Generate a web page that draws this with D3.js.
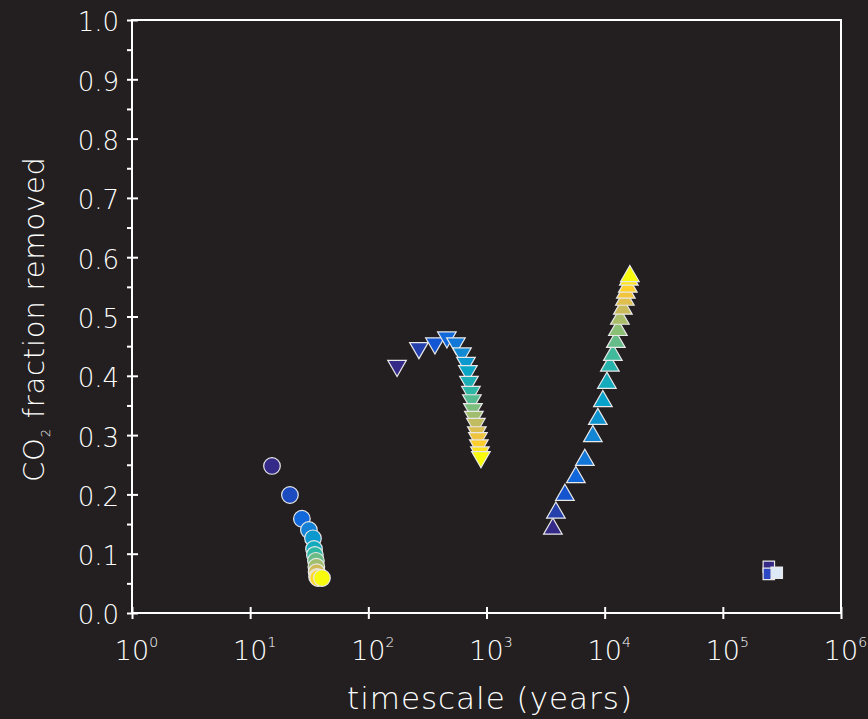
<!DOCTYPE html>
<html>
<head>
<meta charset="utf-8">
<script src="https://cdn.jsdelivr.net/npm/d3@7/dist/d3.min.js"></script>
<style>
  body { margin: 0; background: #231f20; }
  svg { display: block; }
  text { font-family: "DejaVu Sans", sans-serif; font-weight: 200; fill: #ffffff; }
</style>
</head>
<body>
<div class="chart"></div>
<script>
// data: timescale (years) vs CO2 fraction removed
var circleYears = [15.3, 21.7, 27.4, 31.4, 34.0, 34.7, 35.3, 36.0, 36.3, 36.5, 36.8, 37.5, 40.5];
var circleFrac  = [0.248, 0.199, 0.159, 0.140, 0.126, 0.108, 0.098, 0.088, 0.078, 0.069, 0.061, 0.059, 0.059];

var downYears = [175, 268, 366, 462, 551, 620, 670, 696, 710, 738, 752, 767, 782, 813, 829, 846, 862, 880, 897];
var downFrac  = [0.417, 0.447, 0.455, 0.465, 0.455, 0.438, 0.422, 0.408, 0.390, 0.373, 0.359, 0.344, 0.331, 0.319, 0.305, 0.295, 0.283, 0.271, 0.263];

var upYears = [3645, 3867, 4607, 5706, 6796, 7943, 8751, 9656, 10440, 11070, 11730, 12440, 12940, 13450, 14260, 14830, 15110, 15710, 16030, 16340];
var upFrac  = [0.142, 0.169, 0.199, 0.229, 0.258, 0.298, 0.327, 0.357, 0.388, 0.417, 0.435, 0.457, 0.477, 0.496, 0.513, 0.528, 0.540, 0.550, 0.562, 0.568];

var squareYears = [245000, 245000, 286000];
var squareFrac  = [0.078, 0.066, 0.068];

var xTicks = [1, 10, 100, 1000, 10000, 100000, 1000000];
var yTicks = [0, 0.1, 0.2, 0.3, 0.4, 0.5, 0.6, 0.7, 0.8, 0.9, 1.0];

// parula-like colour ramp
var parula = ["#352a87", "#0f5cdd", "#1481d6", "#06a4ca", "#2eb7a4", "#87bf77", "#d1bb59", "#fec832", "#f9fb0e"];
var squareColors = ["#352a87", "#2c47c4", "#dde9f7"];

var svgWidth = 868, svgHeight = 719;
var margin = { top: 20, right: 27, bottom: 106, left: 132 };
var width = svgWidth - margin.left - margin.right;
var height = svgHeight - margin.top - margin.bottom;

var svg = d3.select(".chart").append("svg")
  .attr("width", svgWidth)
  .attr("height", svgHeight);

var chartGroup = svg.append("g")
  .attr("transform", `translate(${margin.left}, ${margin.top})`);

var xScale = d3.scaleLog().domain([1, 1e6]).range([0, width]);
var yScale = d3.scaleLinear().domain([0, 1]).range([height, 0]);

var colorRamp = d3.scaleLinear()
  .domain(parula.map((c, i) => i / (parula.length - 1)))
  .range(parula)
  .interpolate(d3.interpolateRgb);

function colorFor(i, n) { return colorRamp(i / (n - 1)); }

// frame
chartGroup.append("rect")
  .attr("width", width).attr("height", height)
  .attr("fill", "none").attr("stroke", "#ffffff").attr("stroke-width", 2);

// y minor ticks (outside)
var yAxisMinor = d3.axisLeft(yScale)
  .tickValues(d3.range(0.05, 1, 0.1))
  .tickSize(5).tickFormat("");
chartGroup.append("g").attr("class", "y minor").call(yAxisMinor);

// y major ticks crossing the axis
var yAxis = d3.axisLeft(yScale)
  .tickValues(yTicks)
  .tickSizeInner(-6).tickSizeOuter(0)
  .tickFormat(d3.format(".1f"));
var yG = chartGroup.append("g").call(yAxis);
yG.selectAll(".tick line").attr("x1", -5);
yG.selectAll(".tick text").attr("x", -13).attr("dy", "0.42em").style("font-size", "26px");

var xAxis = d3.axisBottom(xScale)
  .tickValues(xTicks)
  .tickSizeInner(-6).tickSizeOuter(0)
  .tickFormat("");
var xG = chartGroup.append("g")
  .attr("transform", `translate(0, ${height})`)
  .call(xAxis);
xG.selectAll(".tick line").attr("y1", 6);

// 10^n labels
xG.selectAll(".tick").append("text")
  .attr("y", 47)
  .attr("text-anchor", "middle")
  .style("font-size", "27px")
  .attr("dx", 4)
  .each(function(d) {
    var t = d3.select(this);
    t.append("tspan").text("10");
    t.append("tspan").attr("dy", -13).style("font-size", "14px").text(Math.round(Math.log10(d)));
  });

svg.selectAll(".domain, .tick line").attr("stroke", "#ffffff").attr("stroke-width", 2);
svg.selectAll(".domain").remove();

// axis titles
svg.append("text")
  .attr("x", 347)
  .attr("y", 709)
  .attr("textLength", 285)
  .attr("lengthAdjust", "spacing")
  .style("font-size", "31px")
  .text("timescale (years)");

var yTitle = svg.append("text")
  .attr("transform", `translate(44, 482) rotate(-90)`)
  .attr("textLength", 325)
  .attr("lengthAdjust", "spacing")
  .style("font-size", "29px");
yTitle.append("tspan").text("CO");
yTitle.append("tspan").attr("dy", 6).style("font-size", "13px").text("2");
yTitle.append("tspan").attr("dy", -6).text(" fraction removed");

// markers
var marks = chartGroup.append("g");

var circleData = circleYears.map((x, i) => ({ x: x, y: circleFrac[i], c: colorFor(i, circleYears.length) }));
marks.selectAll("circle.pt")
  .data(circleData)
  .enter()
  .append("circle")
  .attr("class", "pt")
  .attr("cx", d => xScale(d.x))
  .attr("cy", d => yScale(d.y))
  .attr("r", 8.3)
  .attr("fill", d => d.c)
  .attr("stroke", "#e8e8e8")
  .attr("stroke-width", 1.2);

var triangle = d3.symbol().type(d3.symbolTriangle).size(150);

var downData = downYears.map((x, i) => ({ x: x, y: downFrac[i], c: colorFor(i, downYears.length) }));
marks.selectAll("path.down")
  .data(downData)
  .enter()
  .append("path")
  .attr("class", "down")
  .attr("d", triangle)
  .attr("transform", d => `translate(${xScale(d.x)}, ${yScale(d.y)}) rotate(180)`)
  .attr("fill", d => d.c)
  .attr("stroke", "#e8e8e8")
  .attr("stroke-width", 1.2);

var upData = upYears.map((x, i) => ({ x: x, y: upFrac[i], c: colorFor(i, upYears.length) }));
marks.selectAll("path.up")
  .data(upData)
  .enter()
  .append("path")
  .attr("class", "up")
  .attr("d", triangle)
  .attr("transform", d => `translate(${xScale(d.x)}, ${yScale(d.y)})`)
  .attr("fill", d => d.c)
  .attr("stroke", "#e8e8e8")
  .attr("stroke-width", 1.2);

var square = d3.symbol().type(d3.symbolSquare).size(130);
var squareData = squareYears.map((x, i) => ({ x: x, y: squareFrac[i], c: squareColors[i] }));
marks.selectAll("path.sq")
  .data(squareData)
  .enter()
  .append("path")
  .attr("class", "sq")
  .attr("d", square)
  .attr("transform", d => `translate(${xScale(d.x)}, ${yScale(d.y)})`)
  .attr("fill", d => d.c)
  .attr("stroke", "#e8e8e8")
  .attr("stroke-width", 1.2);
</script>
</body>
</html>
